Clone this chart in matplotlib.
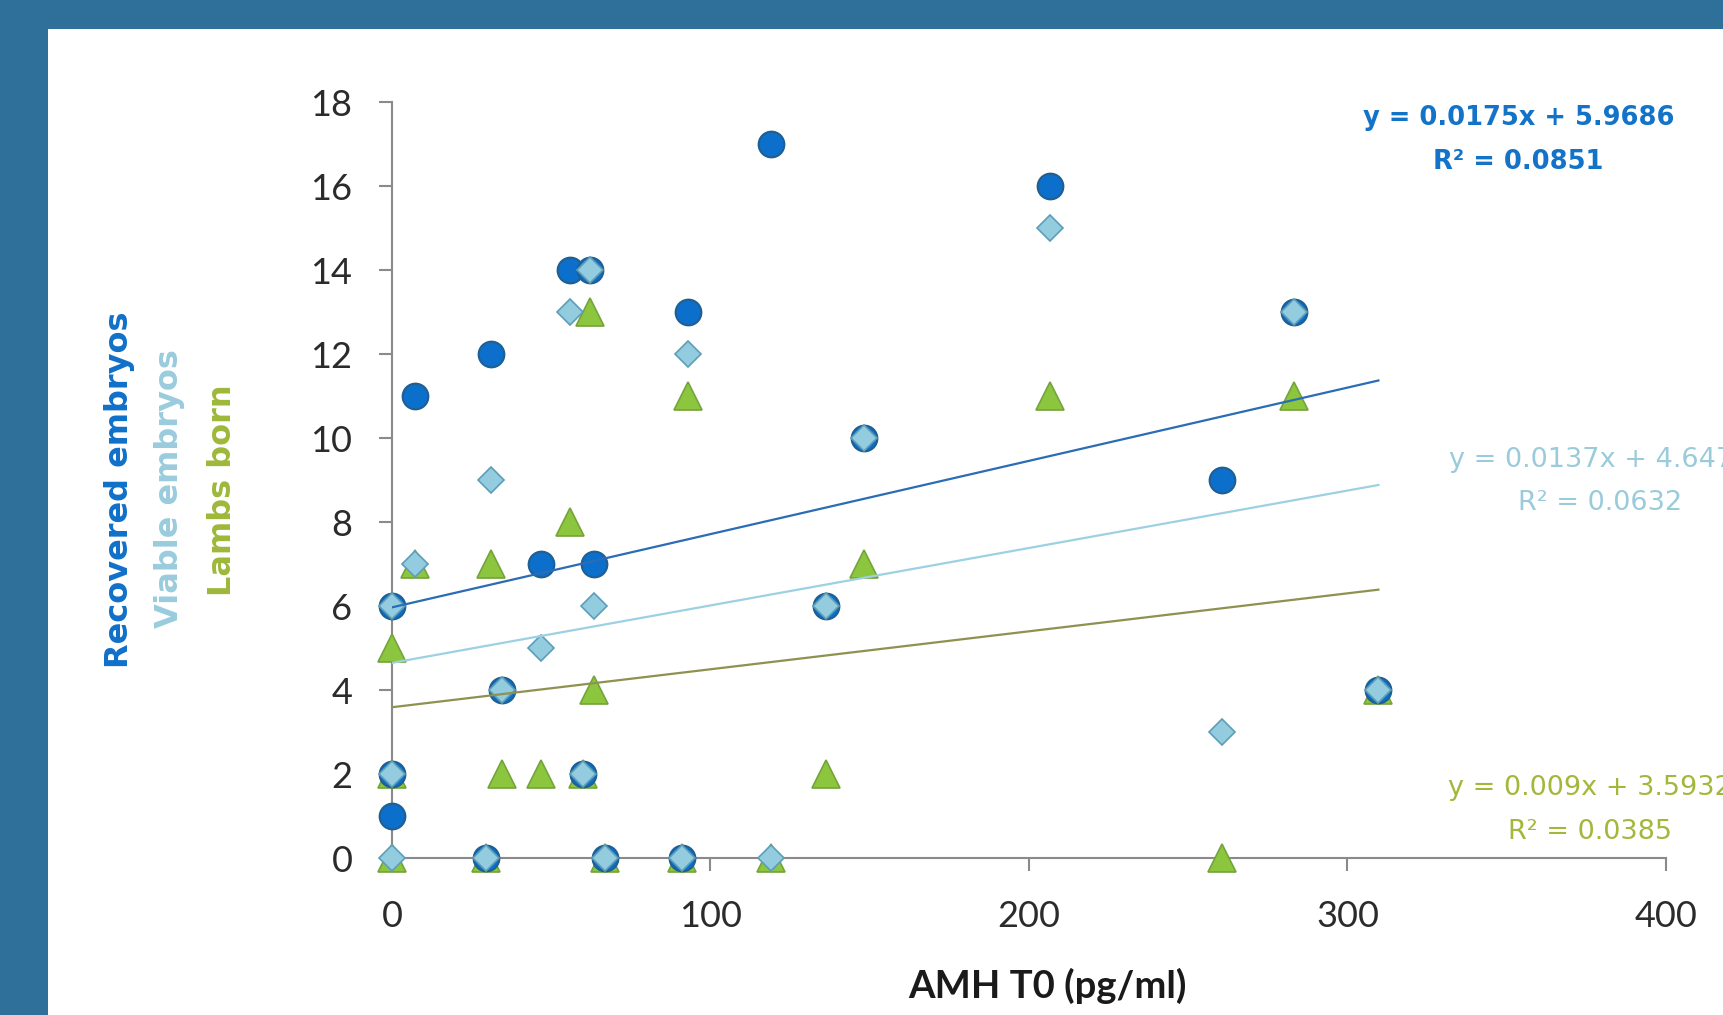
import numpy as np
import matplotlib.pyplot as plt
from matplotlib.patches import Rectangle

W, H = 1724, 1015

# AMH T0 (pg/ml) per ewe, and the three counts
amh = [0, 0, 0, 7.1, 29.6, 31.2, 34.5, 46.9, 55.8, 60.0, 62.1, 63.4, 66.8,
       90.9, 92.9, 119.1, 136.4, 148.2, 206.5, 260.7, 283.2, 309.7]
recovered = [6, 2, 1, 11, 0, 12, 4, 7, 14, 2, 14, 7, 0, 0, 13, 17, 6, 10, 16, 9, 13, 4]
viable = [6, 2, 0, 7, 0, 9, 4, 5, 13, 2, 14, 6, 0, 0, 12, 0, 6, 10, 15, 3, 13, 4]
lambs = [5, 2, 0, 7, 0, 7, 2, 2, 8, 2, 13, 4, 0, 0, 11, 0, 2, 7, 11, 0, 11, 4]

eq_recovered = ["y = 0.0175x + 5.9686", "R² = 0.0851"]
eq_viable = ["y = 0.0137x + 4.6474", "R² = 0.0632"]
eq_lambs = ["y = 0.009x + 3.5932", "R² = 0.0385"]

x_ticks = [0, 100, 200, 300, 400]
y_ticks = [0, 2, 4, 6, 8, 10, 12, 14, 16, 18]

frame = '#2E7099'
blue = '#0B6FCB'
light = '#93CCDF'
green = '#8CC63F'

fig = plt.figure(figsize=(W / 100, H / 100), dpi=100, facecolor=frame)
# white slide panel behind everything
fig.patches.append(Rectangle((48 / W, 0), 1, 1 - 29 / H, transform=fig.transFigure,
                             facecolor='white', edgecolor='none', zorder=-10))

ax = fig.add_axes([392 / W, 1 - 858 / H, (1666 - 392) / W, (858 - 102) / H])
ax.set_facecolor('none')

ax.plot(amh, lambs, '^', ms=19.5, mfc=green, mec='#74A33A', mew=1.2,
        clip_on=False, zorder=3)
ax.plot(amh, recovered, 'o', ms=18.5, mfc=blue, mec='#1F5F92', mew=1.5,
        clip_on=False, zorder=4)
ax.plot(amh, viable, 'D', ms=13.5, mfc=light, mec='#5E9DB8', mew=1.2,
        clip_on=False, zorder=5)

# linear trend lines over the data range
xs = np.array([min(amh), max(amh)])
for vals, col in [(recovered, '#2A6CB6'), (viable, '#9CD0E3'), (lambs, '#8E9150')]:
    coef = np.polyfit(amh, vals, 1)
    ax.plot(xs, np.polyval(coef, xs), color=col, lw=1.6, zorder=6)

ax.set_xlim(0, 400)
ax.set_ylim(0, 18)
ax.set_xticks(x_ticks)
ax.set_yticks(y_ticks)
for s in ['top', 'right']:
    ax.spines[s].set_visible(False)
for s in ['left', 'bottom']:
    ax.spines[s].set_color('#8A8A8A')
    ax.spines[s].set_linewidth(1.5)
ax.tick_params(axis='both', direction='out', length=9.5, width=1.5,
               color='#8A8A8A', labelcolor='#2B2B2B')
ax.tick_params(axis='x', pad=21)
ax.tick_params(axis='y', pad=19)
for lab in ax.get_xticklabels() + ax.get_yticklabels():
    lab.set_fontfamily(['Lato', 'DejaVu Sans'])
    lab.set_fontweight('normal')
    lab.set_fontsize(26)


def ftext(px, py, s, **kw):
    return fig.text(px / W, 1 - py / H, s, **kw)


ftext(1047, 998, 'AMH T0 (pg/ml)', ha='center', va='baseline', fontsize=27.5,
      fontweight='bold', family=['Lato', 'DejaVu Sans'], color='#1A1A1A')

ylab = dict(rotation=90, ha='center', va='center', fontsize=23,
            fontweight='bold', family='DejaVu Sans')
ftext(120, 490, 'Recovered embryos', color='#1070C8', **ylab)
ftext(170, 489, 'Viable embryos', color='#9ACCDE', **ylab)
ftext(223, 490, 'Lambs born', color='#9DB83A', **ylab)

eq = dict(ha='center', va='center', family='DejaVu Sans')
ftext(1519, 118, eq_recovered[0], color='#1273C9', fontweight='bold', fontsize=18.5, **eq)
ftext(1518, 162, eq_recovered[1], color='#1273C9', fontweight='bold', fontsize=18.5, **eq)
ftext(1600, 460, eq_viable[0], color='#9ACBDB', fontsize=19.5, **eq)
ftext(1600, 503, eq_viable[1], color='#9ACBDB', fontsize=19.5, **eq)
ftext(1590, 788, eq_lambs[0], color='#A3B83A', fontsize=19.5, **eq)
ftext(1590, 832, eq_lambs[1], color='#A3B83A', fontsize=19.5, **eq)

fig.savefig('out.png', dpi=100, facecolor=frame)
